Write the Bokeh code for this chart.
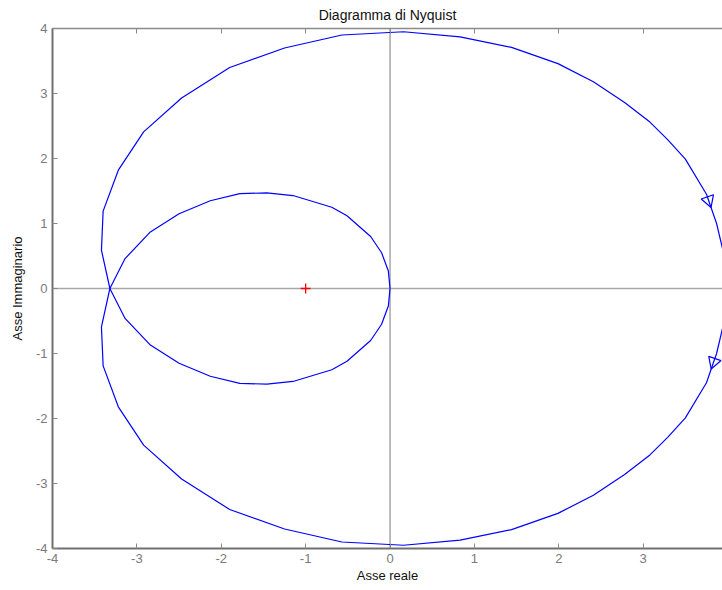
import math
from bokeh.plotting import figure
from bokeh.models import LinearAxis, FixedTicker, Span, Range1d, ColumnDataSource
from bokeh.embed import file_html
from bokeh.resources import INLINE

# ---- data (positive-frequency branch) ----
# outer part: from G(0) down through the lower half to the crossing point
outer_re = [4.00, 3.97, 3.87, 3.75, 3.50, 3.29, 3.08, 2.78, 2.41, 1.99, 1.44, 0.83,
            0.16, -0.57, -1.25, -1.90, -2.47, -2.92, -3.22, -3.40, -3.42, -3.32]
outer_im = [0.00, -0.45, -1.00, -1.45, -1.99, -2.29, -2.56, -2.86, -3.18, -3.46, -3.71, -3.87,
            -3.95, -3.90, -3.70, -3.40, -2.93, -2.41, -1.82, -1.19, -0.59, 0.00]
# inner loop: from the crossing point through the upper half to the origin
inner_re = [-3.32, -3.14, -2.84, -2.50, -2.13, -1.78, -1.46, -1.15, -0.69, -0.51,
            -0.23, -0.10, -0.02, 0.00]
inner_im = [0.00, 0.46, 0.87, 1.15, 1.35, 1.46, 1.47, 1.43, 1.25, 1.12,
            0.80, 0.55, 0.27, 0.00]
critical_re = [-1.0]
critical_im = [0.0]

x_ticks = [-4, -3, -2, -1, 0, 1, 2, 3]
y_ticks = [-4, -3, -2, -1, 0, 1, 2, 3, 4]
title_text = "Diagramma di Nyquist"
x_label = "Asse reale"
y_label = "Asse Immaginario"

# ---- layout ----
W, H = 722, 590
LEFT, TOP, BOTTOM = 52, 28, 42
X0, X1 = -4.0, 3.94
Y0, Y1 = -4.0, 4.0
FW, FH = W - LEFT, H - TOP - BOTTOM
SX, SY = FW / (X1 - X0), FH / (Y1 - Y0)

FONT = "Liberation Sans"
BLUE = "#0000ff"
TICK_COL = "#7a7a7a"

p = figure(width=W, height=H, output_backend="svg", toolbar_location=None,
           x_range=Range1d(X0, X1), y_range=Range1d(Y0, Y1),
           min_border_left=LEFT, min_border_right=0, min_border_top=TOP,
           min_border_bottom=BOTTOM, x_axis_location=None, y_axis_location=None)
p.grid.visible = False
p.outline_line_color = None
p.background_fill_color = "white"
p.border_fill_color = "white"

p.title.text = title_text
p.title.align = "center"
p.title.text_font = FONT
p.title.text_font_size = "14px"
p.title.text_font_style = "normal"
p.title.text_color = "#111111"
p.title.offset = 0
p.title.standoff = 8
p.title.vertical_align = "top"


def style_axis(ax, line_col, line_w, ticks, labels=True):
    ax.axis_line_color = line_col
    ax.axis_line_width = line_w
    ax.major_tick_in = 5
    ax.major_tick_out = 0
    ax.major_tick_line_color = "#888888"
    ax.minor_tick_line_color = None
    ax.major_label_text_font = FONT
    ax.major_label_text_font_size = "13px"
    ax.major_label_text_color = TICK_COL if labels else None
    ax.major_label_overrides = {t: (str(t) if labels else "") for t in ticks}
    ax.axis_label_text_font = FONT
    ax.axis_label_text_font_size = "13px"
    ax.axis_label_text_font_style = "normal"
    ax.axis_label_text_color = "#111111"


xb = LinearAxis(ticker=FixedTicker(ticks=x_ticks), axis_label=x_label)
style_axis(xb, "#707070", 2, x_ticks)
xb.major_label_standoff = 5
xb.axis_label_standoff = 2
p.add_layout(xb, "below")

yl = LinearAxis(ticker=FixedTicker(ticks=y_ticks), axis_label=y_label)
style_axis(yl, "#707070", 2, y_ticks)
yl.major_label_standoff = 5
yl.axis_label_standoff = 8
p.add_layout(yl, "left")

xt = LinearAxis(ticker=FixedTicker(ticks=x_ticks))
style_axis(xt, "#8a8a8a", 1.5, x_ticks, labels=False)
xt.major_label_standoff = 0
p.add_layout(xt, "above")

# zero lines (under the curve)
p.add_layout(Span(location=0, dimension="width", line_color="#a6a6a6", line_width=1.5,
                  level="underlay"))
p.add_layout(Span(location=0, dimension="height", line_color="#a6a6a6", line_width=1.5,
                  level="underlay"))

# curve: positive branch and its mirror (negative frequencies)
pos_re = outer_re + inner_re[1:]
pos_im = outer_im + inner_im[1:]
neg_re = list(pos_re)
neg_im = [-v for v in pos_im]
p.line(pos_re, pos_im, line_color=BLUE, line_width=1.2)
p.line(neg_re, neg_im, line_color=BLUE, line_width=1.2)

# direction arrows
K = 2


def arrow(re, im, k, t, reverse):
    ax_ = re[k] + t * (re[k + 1] - re[k])
    ay_ = im[k] + t * (im[k + 1] - im[k])
    dx, dy = re[k + 1] - re[k], im[k + 1] - im[k]
    if reverse:
        dx, dy = -dx, -dy
    ang = math.atan2(dy * SY, dx * SX) - math.pi / 2
    return ax_, ay_, ang


a1 = arrow(pos_re, pos_im, K, 0.29, False)
a2 = arrow(neg_re, neg_im, K, 0.79, True)
src = ColumnDataSource(dict(x=[a1[0], a2[0]], y=[a1[1], a2[1]], a=[a1[2], a2[2]]))
p.scatter("x", "y", angle="a", source=src, marker="triangle", size=13,
          fill_color=None, line_color=BLUE, line_width=1.2)

# critical point
p.scatter(critical_re, critical_im, marker="cross", size=10, line_color="#ff0000",
          line_width=1.3)

open("out.html", "w").write(file_html(p, INLINE))
